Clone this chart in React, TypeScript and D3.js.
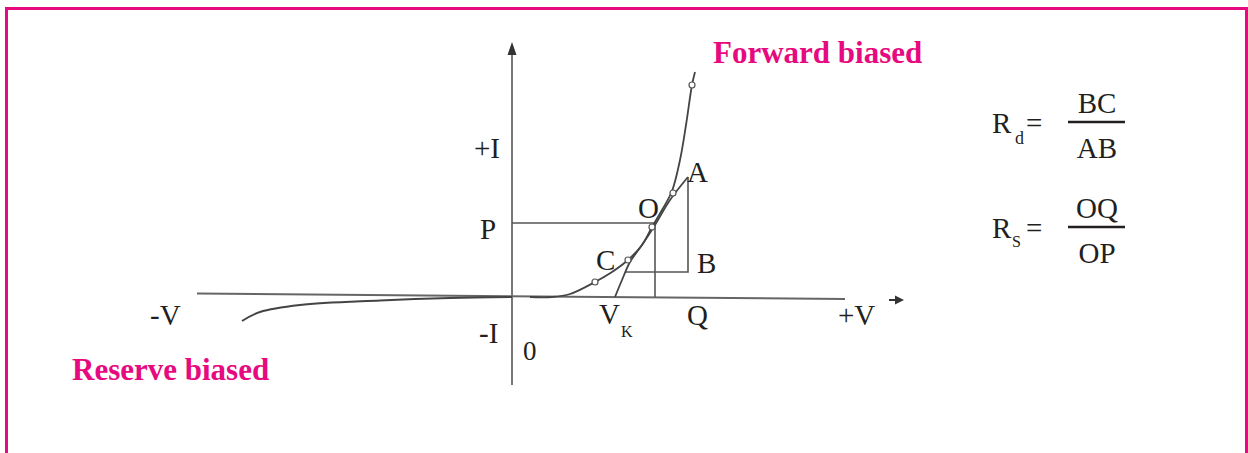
import React from "react";
import * as d3 from "d3";

// Forward-bias characteristic (voltage, current) in arbitrary diagram units
const forwardV = [1.8, 4.0, 5.8, 8.3, 10.0, 11.6, 13.0, 14.0, 15.0, 16.0, 16.8, 17.4, 18.0, 18.3];
const forwardI = [0.0, 0.0, 0.3, 1.5, 2.5, 3.7, 5.2, 7.0, 8.7, 10.6, 13.7, 17.2, 21.2, 22.5];
// Reverse-bias characteristic
const reverseV = [-27.0, -25.2, -21.2, -13.2, -6.2, 0.0];
const reverseI = [-2.4, -1.5, -0.8, -0.35, -0.1, 0.0];
// Measured points (small circles)
const markerV = [8.3, 11.6, 14.0, 16.1, 18.0];
const markerI = [1.5, 3.7, 7.0, 10.4, 21.2];
// Tangent construction from knee voltage V_K up to A
const tangentV = [10.3, 11.0, 11.8, 13.0, 14.3, 15.8, 17.6];
const tangentI = [0.0, 1.7, 3.5, 5.2, 7.2, 9.7, 12.0];
// Construction points
const pointO = [14.3, 7.4];
const pointA = [17.6, 12.0];
const pointB = [17.6, 2.5];
const pointC = [11.4, 2.5];

const W = 1248;
const H = 453;
const PINK = "#e6097f";
const INK = "#231f20";
const LINE = "#555";
const FONT = "'Liberation Serif', 'Times New Roman', serif";

export default function App() {
  const x = d3.scaleLinear().domain([-31.5, 33.3]).range([197, 845]);
  const y = d3.scaleLinear().domain([-8.8, 25.5]).range([385, 42]);

  const fwd = forwardV.map((v, i) => [v, forwardI[i]] as [number, number]);
  const rev = reverseV.map((v, i) => [v, reverseI[i]] as [number, number]);
  const tan = tangentV.map((v, i) => [v, tangentI[i]] as [number, number]);
  const marks = markerV.map((v, i) => [v, markerI[i]] as [number, number]);

  const curve = d3
    .line<[number, number]>()
    .x((d) => x(d[0]))
    .y((d) => y(d[1]))
    .curve(d3.curveCatmullRom.alpha(0.5));

  const x0 = x(0);
  const y0 = y(0);

  const label = (t: string, px: number, py: number, size = 29, anchor = "start") => (
    <text x={px} y={py} fontSize={size} fill={INK} fontFamily={FONT} textAnchor={anchor}>
      {t}
    </text>
  );

  return (
    <svg
      width={W}
      height={H}
      style={{ position: "absolute", left: 0, top: 0, background: "#fff" }}
    >
      {/* frame */}
      <path d={`M6.5,${H} V8.5 H1246.5 V${H}`} fill="none" stroke={PINK} strokeWidth={3} />

      {/* axes */}
      <line x1={x0} x2={x0} y1={y(-8.8)} y2={y(24.2)} stroke="#777" strokeWidth={2} />
      <path
        d={`M${x0},${y(25.5)} L${x0 - 4.5},${y(24.2)} L${x0 + 4.5},${y(24.2)} Z`}
        fill="#333"
      />
      <line x1={x(-31.5)} x2={x(33.3)} y1={y(0.35)} y2={y(-0.2)} stroke="#666" strokeWidth={2} />
      <line x1={x(37.7)} x2={x(38.4)} y1={y(-0.3)} y2={y(-0.3)} stroke="#333" strokeWidth={2} />
      <path
        d={`M${x(39.2)},${y(-0.3)} L${x(38.3)},${y(-0.3) - 4.5} L${x(38.3)},${y(-0.3) + 4.5} Z`}
        fill="#333"
      />

      {/* construction lines */}
      <polyline
        points={`${x0},${y(pointO[1])} ${x(pointO[0])},${y(pointO[1])} ${x(pointO[0])},${y0}`}
        fill="none"
        stroke={LINE}
        strokeWidth={1.6}
      />
      <polyline
        points={`${x(pointA[0])},${y(pointA[1])} ${x(pointB[0])},${y(pointB[1])} ${x(pointC[0])},${y(pointC[1])}`}
        fill="none"
        stroke={LINE}
        strokeWidth={1.6}
      />
      <path d={curve(tan) || ""} fill="none" stroke="#444" strokeWidth={1.8} />

      {/* characteristics */}
      <path d={curve(fwd) || ""} fill="none" stroke="#444" strokeWidth={1.8} />
      <path d={curve(rev) || ""} fill="none" stroke="#444" strokeWidth={2} />
      {marks.map((d, i) => (
        <circle key={i} cx={x(d[0])} cy={y(d[1])} r={3} fill="#fff" stroke="#555" strokeWidth={1.2} />
      ))}

      {/* labels */}
      {label("+I", 474, 158)}
      {label("P", 480, 239)}
      {label("-I", 479, 343)}
      {label("0", 523, 360, 27)}
      {label("-V", 150, 325)}
      {label("V", 599, 324)}
      {label("K", 621, 337, 16)}
      {label("Q", 687, 325)}
      {label("+V", 838, 325)}
      {label("O", 638, 218)}
      {label("A", 687, 182)}
      {label("C", 596, 270)}
      {label("B", 697, 273)}

      <text x={713} y={63} fontSize={31} fontWeight="bold" fill={PINK} fontFamily={FONT}>
        Forward biased
      </text>
      <text x={72} y={380} fontSize={31} fontWeight="bold" fill={PINK} fontFamily={FONT}>
        Reserve biased
      </text>

      {/* formulas */}
      {label("R", 992, 133)}
      {label("d", 1015, 144, 18)}
      {label("=", 1026, 133)}
      <line x1={1068} x2={1125} y1={122} y2={122} stroke={INK} strokeWidth={2.5} />
      {label("BC", 1097, 113, 29, "middle")}
      {label("AB", 1097, 158, 29, "middle")}

      {label("R", 992, 238)}
      {label("S", 1012, 247, 16)}
      {label("=", 1026, 238)}
      <line x1={1068} x2={1125} y1={227} y2={227} stroke={INK} strokeWidth={2.5} />
      {label("OQ", 1097, 218, 29, "middle")}
      {label("OP", 1097, 263, 29, "middle")}
    </svg>
  );
}
